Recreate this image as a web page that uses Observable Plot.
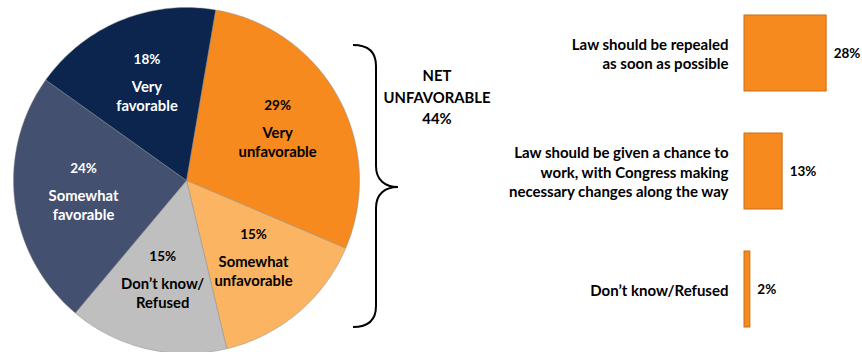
<!DOCTYPE html>
<html><head><meta charset="utf-8">
<script src="https://cdn.jsdelivr.net/npm/d3@7"></script>
<script src="https://cdn.jsdelivr.net/npm/@observablehq/plot@0.6"></script>
<style>
html,body{margin:0;padding:0;background:#fff;}
#wrap{position:relative;width:862px;height:352px;overflow:hidden;font-family:Lato,"Open Sans",sans-serif;}
#pie,#bars,#brace,#net{position:absolute;top:0;}
#pie{left:0;} #bars{left:500px;} #brace{left:340px;}
#net{left:372px;width:130px;top:65px;text-align:center;font-weight:700;font-size:14.8px;line-height:21.5px;color:#000;}
</style></head>
<body><div id="wrap"><div id="pie"></div><div id="brace"></div><div id="net"></div><div id="bars"></div></div>
<script>
// Pie data
const pieCategories = ["Very unfavorable","Somewhat unfavorable","Don\u2019t know/ Refused","Somewhat favorable","Very favorable"];
const pieLabels = ["Very\nunfavorable","Somewhat\nunfavorable","Don\u2019t know/\nRefused","Somewhat\nfavorable","Very\nfavorable"];
const pieValues = [29, 15, 15, 24, 18];
const pieColors = ["#F68A1F","#FBB462","#BFBFBF","#44506F","#0B254F"];
const pieTextColors = ["#000","#000","#000","#fff","#fff"];

// Bar data
const barCategories = ["Law should be repealed\nas soon as possible","Law should be given a chance to\nwork, with Congress making\nnecessary changes along the way","Don\u2019t know/Refused"];
const barValues = [28, 13, 2];

// Net annotation
const netLines = ["NET","UNFAVORABLE","44%"];

// ---------- Pie ----------
const W = 372, H = 352, cx = 186, cy = 180, R = 173;
const start = 9.7 * Math.PI / 180;
const arcs = d3.pie().sort(null).startAngle(start).endAngle(start + 2*Math.PI)(pieValues);
const pts = [];
arcs.forEach((a, i) => {
  pts.push({s: i, x: 0, y: 0, c: pieColors[i]});
  const n = Math.max(2, Math.ceil((a.endAngle - a.startAngle) / (Math.PI/180)));
  for (let k = 0; k <= n; k++) {
    const t = a.startAngle + (a.endAngle - a.startAngle) * k / n;
    pts.push({s: i, x: Math.sin(t), y: -Math.cos(t), c: pieColors[i]});
  }
  pts.push({s: i, x: 0, y: 0, c: pieColors[i]});
});
const labelR = 0.6;
const labs = arcs.map((a, i) => {
  const m = (a.startAngle + a.endAngle) / 2;
  return {x: labelR*Math.sin(m), y: -labelR*Math.cos(m), pct: pieValues[i] + "%", lab: pieLabels[i], tc: pieTextColors[i]};
});
const pie = Plot.plot({
  width: W, height: H, margin: 0,
  x: {domain: [-cx/R, (W-cx)/R], range: [0, W], axis: null},
  y: {domain: [-cy/R, (H-cy)/R], range: [0, H], axis: null},
  color: {type: "identity"},
  style: {fontFamily: "Lato, 'Open Sans', sans-serif", background: "transparent"},
  marks: [
    Plot.line(pts, {x: "x", y: "y", z: "s", fill: "c", stroke: "#8c8c8c", strokeWidth: 0.6, strokeOpacity: 0.8, curve: "linear"}),
    Plot.text(labs, {x: "x", y: "y", text: "pct", fill: "tc", dy: -25, fontSize: 13.5, fontWeight: 700}),
    Plot.text(labs, {x: "x", y: "y", text: "lab", fill: "tc", dy: 11, fontSize: 14.8, fontWeight: 700, lineHeight: 1.25})
  ]
});
document.getElementById("pie").appendChild(pie);

// ---------- Brace ----------
const bsvg = d3.select("#brace").append("svg").attr("width", 70).attr("height", 352);
bsvg.append("path")
  .attr("transform", "translate(-340,0)")
  .attr("fill", "none").attr("stroke", "#000").attr("stroke-width", 2)
  .attr("d", "M353,45 C368,45 376,52 376,66 L376,166 C376,180 385,187 398,187 C385,187 376,194 376,208 L376,306 C376,320 368,327 353,327");

// ---------- Net text ----------
document.getElementById("net").innerHTML = netLines.join("<br>");

// ---------- Bars ----------
const barData = barCategories.map((c, i) => ({cat: c, v: barValues[i]}));
const bars = Plot.plot({
  width: 362, height: 352,
  marginLeft: 244, marginRight: 30, marginTop: 3, marginBottom: 13,
  x: {domain: [0, 30], axis: null},
  y: {domain: barCategories, paddingInner: 0.356, paddingOuter: 0.1, axis: null},
  style: {fontFamily: "Lato, 'Open Sans', sans-serif", background: "transparent"},
  marks: [
    Plot.barX(barData, {x: "v", y: "cat", fill: "#F68A1F", stroke: "#C96E14", strokeWidth: 1}),
    Plot.text(barData, {x: "v", y: "cat", text: d => d.v + "%", textAnchor: "start", dx: 7, fontSize: 13.5, fontWeight: 700, fill: "#000"}),
    Plot.text(barData, {x: 0, y: "cat", text: "cat", textAnchor: "end", dx: -16, fontSize: 15, fontWeight: 700, fill: "#000", lineHeight: 1.3})
  ]
});
document.getElementById("bars").appendChild(bars);
</script></body></html>
